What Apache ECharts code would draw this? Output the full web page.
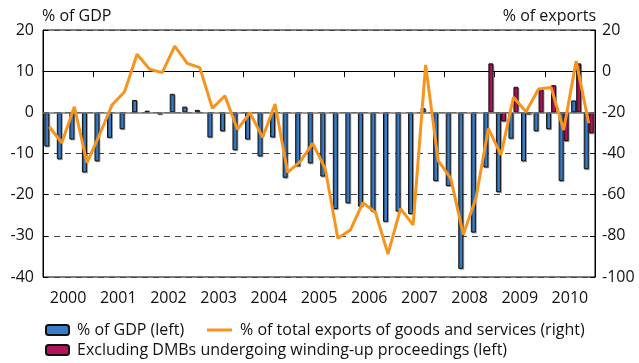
<!DOCTYPE html>
<html>
<head>
<meta charset="utf-8">
<script src="https://cdn.jsdelivr.net/npm/echarts@6/dist/echarts.min.js"></script>
<style>
  html, body { margin: 0; padding: 0; background: #fff; }
  #chart { width: 639px; height: 363px; }
</style>
</head>
<body>
<div id="chart"></div>
<script>
// Quarterly categories 2000Q1 .. 2010Q4
const years = ['2000','2001','2002','2003','2004','2005','2006','2007','2008','2009','2010'];
const quarters = [];
years.forEach(function (y) { for (let q = 1; q <= 4; q++) quarters.push(y + 'Q' + q); });

// Balance as % of GDP (left axis)
const gdpShare = [
  -8.3, -11.4, -6.6, -14.6, -11.9, -6.2, -4.1, 3.0, 0.4, -0.5, 4.5, 1.4,
  0.6, -6.1, -4.6, -9.2, -6.6, -10.7, -6.1, -15.9, -13.1, -12.4, -15.6, -23.5,
  -22.1, -22.9, -24.1, -26.6, -24.1, -24.7, 1.0, -16.7, -17.9, -38.0, -29.2, -13.4,
  -19.4, -6.4, -11.9, -4.6, -4.1, -16.7, 2.9, -13.8
];

// Excluding DMBs undergoing winding-up proceedings (left axis)
const exclDmb = [
  null, null, null, null, null, null, null, null, null, null, null, null,
  null, null, null, null, null, null, null, null, null, null, null, null,
  null, null, null, null, null, null, null, null, null, null, null, 11.9,
  -2.2, 6.2, -0.5, 5.6, 6.6, -7.0, 11.9, -5.1
];

// Balance as % of total exports of goods and services (right axis)
const exportShare = [
  -27.0, -34.8, -17.3, -44.5, -31.0, -16.4, -10.0, 8.2, 0.9, -0.7, 12.2, 3.8,
  1.7, -18.0, -12.0, -28.3, -20.2, -32.2, -16.0, -49.2, -44.0, -35.1, -47.5, -81.2,
  -77.2, -63.9, -68.6, -88.8, -66.8, -74.7, 3.0, -43.5, -52.1, -79.3, -62.0, -27.8,
  -40.7, -12.7, -19.7, -8.7, -7.9, -28.6, 4.9, -25.3
];

const leftTicks = { min: -40, max: 20, interval: 10 };
const rightTicks = { min: -100, max: 20, interval: 20 };

const NAME_GDP = '% of GDP (left)';
const NAME_EXP = '% of total exports of goods and services (right)';
const NAME_DMB = 'Excluding DMBs undergoing winding-up proceedings (left)';

const FONT = 'Open Sans';
const INK = '#111';
const FS = 16;

const legendText = { fontFamily: FONT, fontSize: FS, color: INK, padding: [0, 0, 0, 3] };

const chart = echarts.init(document.getElementById('chart'), null, { renderer: 'canvas' });

chart.setOption({
  animation: false,
  textStyle: { fontFamily: FONT, color: INK },
  grid: {
    left: 43, right: 44, top: 30, bottom: 86,
    show: true, borderColor: '#000', borderWidth: 1, backgroundColor: 'transparent'
  },
  legend: [
    {
      left: 40, top: 317, itemWidth: 23, itemHeight: 10,
      textStyle: legendText, data: [NAME_GDP]
    },
    {
      left: 202, top: 317, itemWidth: 25, itemHeight: 3, icon: 'rect',
      textStyle: legendText, data: [NAME_EXP]
    },
    {
      left: 40, top: 337, itemWidth: 23, itemHeight: 10,
      textStyle: legendText, data: [NAME_DMB]
    }
  ],
  xAxis: [
    { type: 'category', data: quarters, show: false },
    {
      type: 'category', data: years, position: 'bottom', boundaryGap: true,
      axisLine: { show: true, lineStyle: { color: '#000', width: 1 } },
      axisTick: { show: true, inside: false, length: 6, interval: 0, lineStyle: { color: '#000' } },
      axisLabel: { fontFamily: FONT, fontSize: FS, color: INK, margin: 13, interval: 0 },
      splitLine: { show: false }
    }
  ],
  yAxis: [
    {
      type: 'value', position: 'left',
      min: leftTicks.min, max: leftTicks.max, interval: leftTicks.interval,
      name: '% of GDP', nameLocation: 'end', nameGap: 6,
      nameTextStyle: { fontFamily: FONT, fontSize: FS, color: INK, align: 'left', padding: [0, 0, 0, -1] },
      axisLine: { show: true, lineStyle: { color: '#000', width: 1 } },
      axisTick: { show: true, inside: true, length: 5, lineStyle: { color: '#000' } },
      axisLabel: { fontFamily: FONT, fontSize: FS, color: INK, margin: 9 },
      splitLine: { show: true, lineStyle: { color: '#444', width: 1, type: [6, 5] } }
    },
    {
      type: 'value', position: 'right',
      min: rightTicks.min, max: rightTicks.max, interval: rightTicks.interval,
      name: '% of exports', nameLocation: 'end', nameGap: 6,
      nameTextStyle: { fontFamily: FONT, fontSize: FS, color: INK, align: 'right', padding: [0, -1, 0, 0] },
      axisLine: { show: true, lineStyle: { color: '#000', width: 1 } },
      axisTick: { show: true, inside: true, length: 5, lineStyle: { color: '#000' } },
      axisLabel: { fontFamily: FONT, fontSize: FS, color: INK, margin: 7 },
      splitLine: { show: false }
    }
  ],
  series: [
    {
      name: NAME_GDP, type: 'bar', xAxisIndex: 0, yAxisIndex: 0,
      data: gdpShare, barWidth: 5, barGap: '0%',
      itemStyle: {
        color: '#3b7cc6', borderColor: '#111', borderWidth: 1,
        shadowColor: 'rgba(0,0,0,0.3)', shadowOffsetX: 1, shadowOffsetY: 1
      },
      markLine: {
        silent: true, symbol: 'none', label: { show: false },
        lineStyle: { color: '#777', width: 1.5, type: 'solid' },
        data: [{ yAxis: 0 }]
      }
    },
    {
      name: NAME_DMB, type: 'bar', xAxisIndex: 0, yAxisIndex: 0,
      data: exclDmb, barWidth: 5, barGap: '0%',
      itemStyle: {
        color: '#b3125c', borderColor: '#111', borderWidth: 1,
        shadowColor: 'rgba(0,0,0,0.3)', shadowOffsetX: 1, shadowOffsetY: 1
      }
    },
    {
      name: NAME_EXP, type: 'line', xAxisIndex: 0, yAxisIndex: 1,
      data: exportShare, symbol: 'none', smooth: false, z: 5,
      lineStyle: { color: '#f7941d', width: 3 },
      itemStyle: { color: '#f7941d' }
    }
  ]
});
</script>
</body>
</html>
